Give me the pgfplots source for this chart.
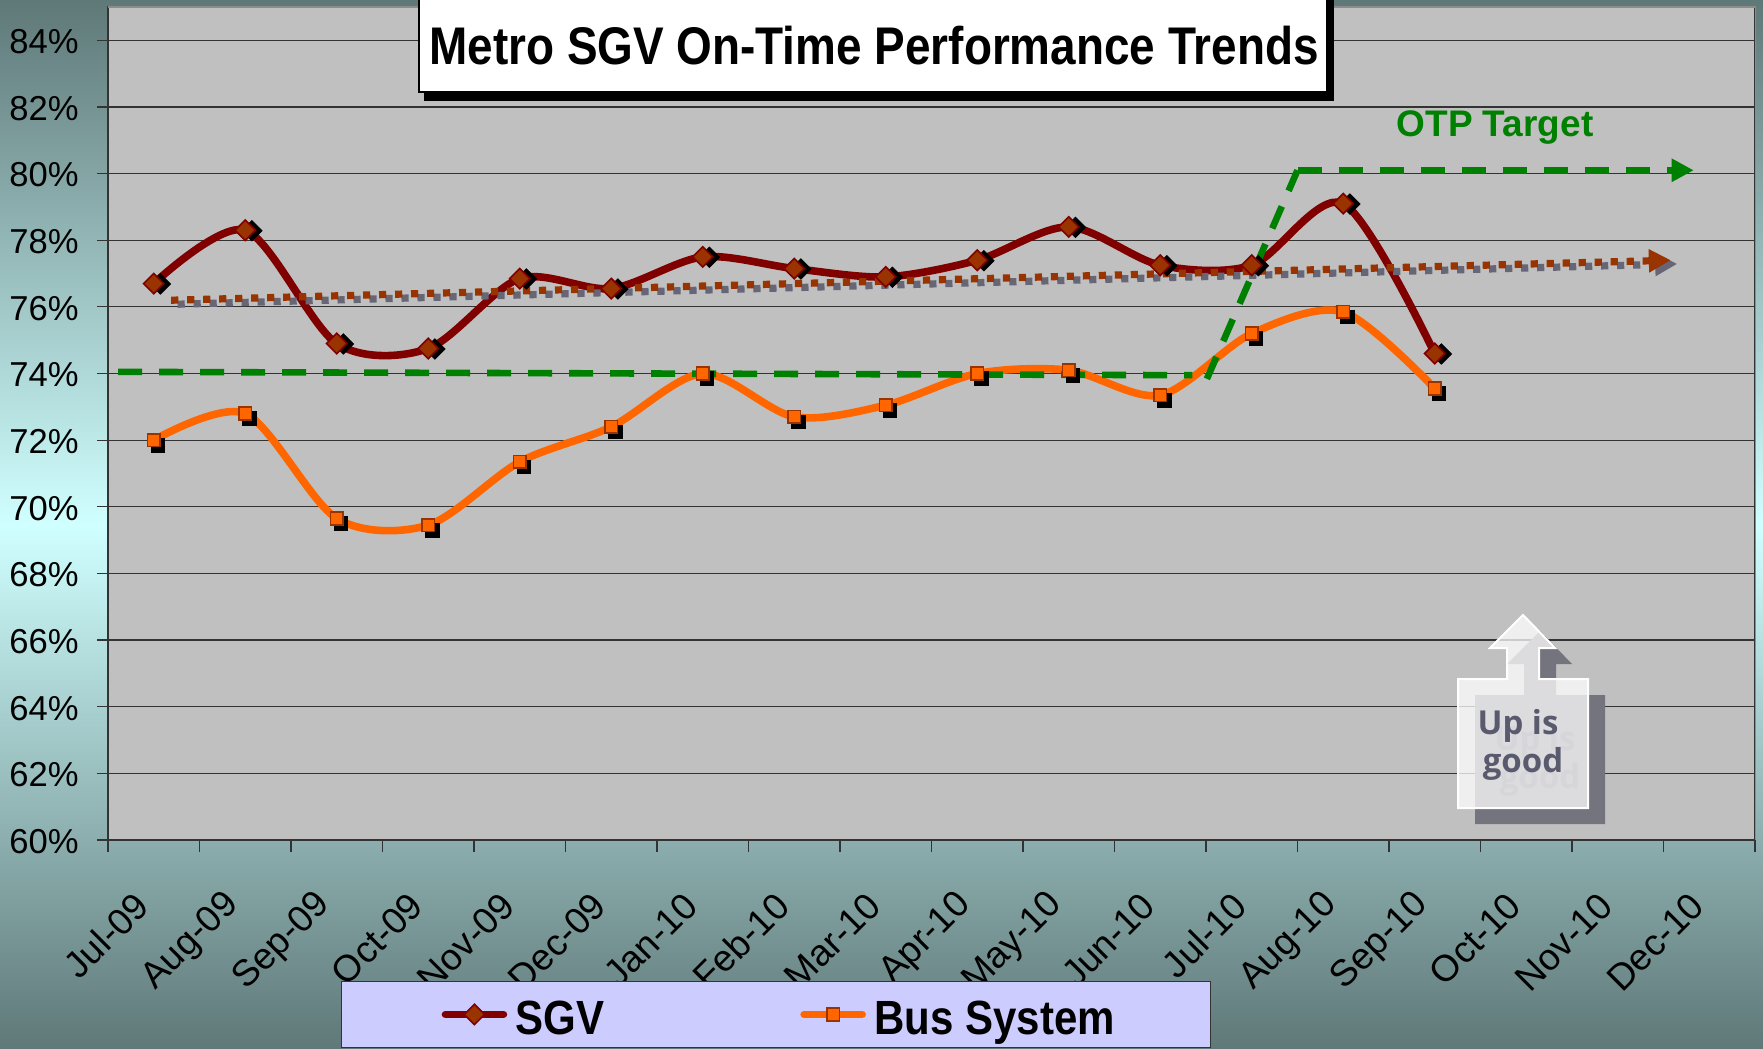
\documentclass[border=0pt]{standalone}
\usepackage{fontspec}
\setmainfont{Liberation Sans}
\newfontfamily\titlefont[FakeStretch=0.866]{Liberation Sans}
\newfontfamily\legfont[FakeStretch=0.875]{Liberation Sans}
\newfontfamily\upfont{Open Sans}
\usepackage{pgfplots}
\usepackage{pgfplotstable}
\pgfplotsset{compat=1.18}
\usetikzlibrary{arrows.meta}
\definecolor{bgdark}{HTML}{5F7878}
\definecolor{bglight}{HTML}{D0FFFF}
\definecolor{plotbg}{HTML}{C0C0C0}
\definecolor{sgvline}{HTML}{800000}
\definecolor{sgvmark}{HTML}{993300}
\definecolor{busline}{HTML}{FF6600}
\definecolor{trendgray}{HTML}{666677}
\definecolor{otp}{HTML}{008000}
\definecolor{legbg}{HTML}{CCCCFF}
\definecolor{upgray}{HTML}{74747F}
\definecolor{uptext}{HTML}{5A5A6E}
\pgfplotstableread{
x sgv bus
0.5 76.7 72.0
1.5 78.3 72.8
2.5 74.9 69.65
3.5 74.75 69.45
4.5 76.85 71.35
5.5 76.55 72.4
6.5 77.5 74.0
7.5 77.15 72.7
8.5 76.9 73.05
9.5 77.4 74.0
10.5 78.4 74.1
11.5 77.25 73.35
12.5 77.25 75.2
13.5 79.1 75.85
14.5 74.6 73.55
}\otpdata
\begin{document}
\begin{tikzpicture}
\path[use as bounding box] (0,0) rectangle (881.5pt,-524.5pt);
\shade[top color=bgdark,bottom color=bgdark,middle color=bglight] (0,0) rectangle (881.5pt,-524.5pt);
\begin{axis}[
  at={(54pt,-420pt)},anchor=south west,
  scale only axis,width=823.5pt,height=416.5pt,
  xmin=0,xmax=18,ymin=60,ymax=85,
  axis background/.style={fill=plotbg},
  axis line style={draw=black!80,line width=0.7pt},
  /pgf/number format/assume math mode=true,
  ytick={60,62,...,84},
  yticklabels={60\%,62\%,64\%,66\%,68\%,70\%,72\%,74\%,76\%,78\%,80\%,82\%,84\%},
  xtick={0.5,1.5,...,17.5},
  xticklabels={Jul-09,Aug-09,Sep-09,Oct-09,Nov-09,Dec-09,Jan-10,Feb-10,Mar-10,Apr-10,May-10,Jun-10,Jul-10,Aug-10,Sep-10,Oct-10,Nov-10,Dec-10},
  minor xtick={0,1,...,18},
  xtick pos=bottom,ytick pos=left,tick align=outside,
  major tick length=5.5pt,minor tick length=6pt,
  xtick style={draw=none},
  ytick style={draw=black!80,line width=0.6pt},
  minor x tick style={draw=black!80,line width=0.6pt},
  ymajorgrids,grid style={draw=black!80,line width=0.6pt},
  yticklabel style={anchor=east,xshift=-5.7pt,yshift=-0.7pt,font=\fontsize{17.3}{20}\selectfont,text=black},
  xticklabel style={rotate=45,anchor=east,xshift=-17.9pt,yshift=-13pt,font=\fontsize{18.5}{21}\selectfont,text=black},
  legend columns=2,
  legend cell align=left,
  legend image code/.code={\draw[#1,line cap=round,mark repeat=2,mark phase=2] plot coordinates {(0pt,0pt)(14.5pt,0pt)(29pt,0pt)};},
  legend style={at={(0.1415,-0.2497)},anchor=south west,draw=black!80,fill=legbg,line width=0.6pt,
    inner xsep=50pt,inner ysep=3pt,
    font=\legfont\bfseries\fontsize{24}{26}\selectfont,
    /tikz/every odd column/.append style={column sep=2.2pt},
    /tikz/every even column/.append style={column sep=96pt}},
]
% marker shadows
\addplot[forget plot,only marks,mark=square*,mark size=3.6pt,mark options={draw=black,fill=black,rotate=45,xshift=2.2pt,yshift=-2.5pt}] table[x=x,y=sgv] {\otpdata};
\addplot[forget plot,only marks,mark=square*,mark size=3.4pt,mark options={draw=black,fill=black,xshift=2pt,yshift=-2.5pt}] table[x=x,y=bus] {\otpdata};
% series
\addplot[sgvline,line width=3.8pt,smooth,tension=0.5,mark=square*,mark size=3.6pt,mark options={draw=sgvline,fill=sgvmark,rotate=45,line width=0.8pt}] table[x=x,y=sgv] {\otpdata};
\addlegendentry{\rule{0pt}{21.5pt}SGV}
\addplot[busline,line width=3.8pt,smooth,tension=0.5,mark=square*,mark size=3.2pt,mark options={draw=sgvmark,fill=busline,line width=0.8pt}] table[x=x,y=bus] {\otpdata};
\addlegendentry{\rule{0pt}{21.5pt}Bus System\hspace*{-4.3pt}}
% trends
\addplot[forget plot,trendgray,line width=3.6pt,dash pattern=on 3.6pt off 4.4pt,-{Triangle[length=11pt,width=11pt]}] coordinates {(0.76,76.08)(17.15,77.29)};
\addplot[forget plot,sgvmark,line width=3.6pt,dash pattern=on 3.6pt off 4.4pt,-{Triangle[length=11pt,width=11pt]}] coordinates {(0.69,76.2)(17.08,77.4)};
% OTP target
\addplot[forget plot,otp,line width=3.3pt,dash pattern=on 12pt off 8.5pt] coordinates {(0.11,74.05)(11.85,73.95)};
\addplot[forget plot,otp,line width=3.3pt,dash pattern=on 12pt off 8.5pt] coordinates {(12.01,73.84)(13.0,80.1)};
\addplot[forget plot,otp,line width=3.3pt,dash pattern=on 12pt off 8.5pt,-{Triangle[length=11pt,width=11pt]}] coordinates {(13.0,80.1)(17.33,80.1)};
\end{axis}
\begin{scope}[x=0.5pt,y=-0.5pt]
% lighter top and right edge of the plot
\draw[black!45,line width=0.8pt] (108,7)--(1755.5,7)--(1755.5,840);
% title
\fill[black] (424,-10) rectangle (1334,101);
\draw[black,fill=white,line width=0.6pt] (419,-10) rectangle (1327,92);
\node[font=\titlefont\bfseries\fontsize{26.5}{30}\selectfont,text=black] at (874,46) {Metro SGV On-Time Performance Trends};
\node[font=\bfseries\fontsize{18.5}{22}\selectfont,text=otp] at (1495,128) {OTP Target};
% up is good
\fill[upgray] (1475,695)--(1524,695)--(1524,664)--(1507,664)--(1540,631)--(1572,664)--(1556,664)--(1556,695)--(1605,695)--(1605,824)--(1475,824)--cycle;
\node[font=\upfont\bfseries\fontsize{16.5}{19.5}\selectfont,text=uptext] at (1535,742) {Up is};
\node[font=\upfont\bfseries\fontsize{16.5}{19.5}\selectfont,text=uptext] at (1540,780) {good};
\draw[white,fill=white,fill opacity=0.75,line width=1pt] (1458,679)--(1507,679)--(1507,648)--(1490,648)--(1523,615)--(1555,648)--(1539,648)--(1539,679)--(1588,679)--(1588,808)--(1458,808)--cycle;
\node[font=\upfont\bfseries\fontsize{16.5}{19.5}\selectfont,text=uptext] at (1518,726) {Up is};
\node[font=\upfont\bfseries\fontsize{16.5}{19.5}\selectfont,text=uptext] at (1523,764) {good};
\end{scope}
\end{tikzpicture}
\end{document}
